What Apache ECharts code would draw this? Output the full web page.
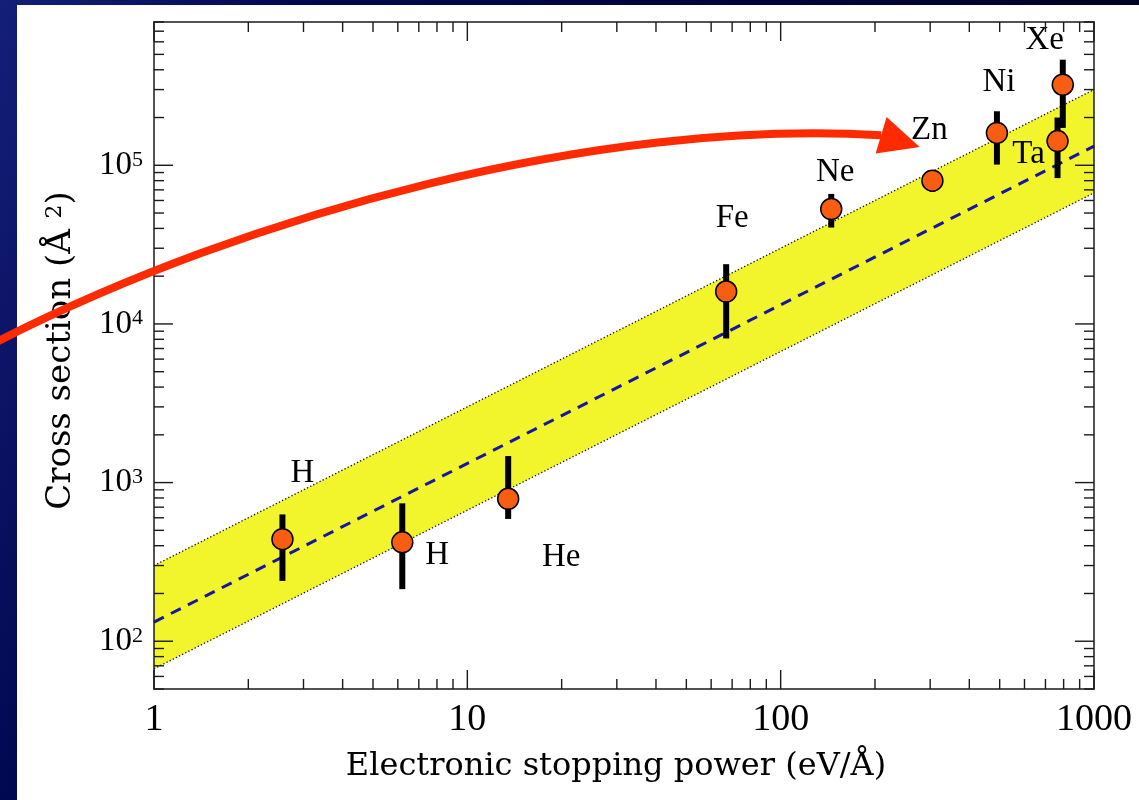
<!DOCTYPE html>
<html>
<head>
<meta charset="utf-8">
<script src="https://cdn.jsdelivr.net/npm/echarts@6/dist/echarts.min.js"></script>
<style>
  html, body { margin: 0; padding: 0; }
  #wrap {
    position: relative; width: 1139px; height: 800px; overflow: hidden;
    background: linear-gradient(110deg, #141f78 0%, #00074f 22%, #000224 80%, #00001a 100%);
  }
  #panel { position: absolute; left: 17px; top: 5px; right: 0; bottom: 0; background: #fff; }
  #chart { position: absolute; left: 0; top: 0; width: 1139px; height: 800px; }
</style>
</head>
<body>
<div id="wrap">
  <div id="panel"></div>
  <div id="chart"></div>
</div>
<script>
// Measured cross sections versus electronic stopping power, one entry per ion
const ions             = ['H', 'H', 'He', 'Fe', 'Ne', 'Zn', 'Ni', 'Ta', 'Xe'];
const stoppingPower    = [2.57, 6.2, 13.5, 67, 145, 305, 490, 765, 795];
const crossSection     = [440, 420, 790, 16000, 53000, 80000, 160000, 142000, 322000];
const crossSectionLow  = [240, 213, 590, 8100, 40500, 68000, 101000, 83000, 172000];
const crossSectionHigh = [630, 740, 1470, 23800, 66000, 90000, 219000, 200000, 463000];

// Linear scaling band (slope one on log-log axes)
const bandX      = [1, 1000];
const bandCenter = [132, 132000];
const bandUpper  = [300, 300000];
const bandLower  = [67, 67000];

// Axis ranges and ticks
const X_MIN = 1, X_MAX = 1000, Y_MIN = 50, Y_MAX = 800000;
const xMajorTicks = [1, 10, 100, 1000];
const xMinorTicks = [2, 3, 4, 5, 6, 7, 8, 9, 20, 30, 40, 50, 60, 70, 80, 90,
                     200, 300, 400, 500, 600, 700, 800, 900];
const yMajorTicks = [100, 1000, 10000, 100000];
const yMinorTicks = [50, 60, 70, 80, 90, 200, 300, 400, 500, 600, 700, 800, 900,
                     2000, 3000, 4000, 5000, 6000, 7000, 8000, 9000,
                     20000, 30000, 40000, 50000, 60000, 70000, 80000, 90000,
                     200000, 300000, 400000, 500000, 600000, 700000, 800000];

// Red annotation arrow: cubic Bézier shaft (start, two control points, end)
// and the arrow tip, in data units
const arrowCurveX = [0.3085, 2.025, 26.52, 209.2];
const arrowCurveY = [7557, 50560, 197800, 154500];
const arrowTip = [277.8, 130400];

// Ion label placement around each marker (pixels)
const labelOffsets = [[20, -66], [35, 13], [53, 58], [6, -73], [4, -37],
                      [-3, -50], [2, -51], [-29, 13], [-18, -44]];

const AXIS_COLOR = '#1a1a1a';
const ARROW_COLOR = '#ff2a00';
const SERIF = '"Liberation Serif", "DejaVu Serif", serif';
const TITLE_FONT = '"DejaVu Serif", "Liberation Serif", serif';

function isDecade(v) {
  const l = Math.log10(v);
  return Math.abs(l - Math.round(l)) < 1e-6;
}

function tickLine(x1, y1, x2, y2) {
  return { type: 'line', shape: { x1, y1, x2, y2 },
           style: { stroke: AXIS_COLOR, lineWidth: 1.4 } };
}

const frameAxis = (extra) => Object.assign({
  type: 'log', logBase: 10, z: 6,
  axisLine: { show: true, onZero: false, lineStyle: { color: AXIS_COLOR, width: 1.5 } },
  axisTick: { show: false },
  splitLine: { show: false },
  minorTick: { show: false },
  minorSplitLine: { show: false }
}, extra);

const chart = echarts.init(document.getElementById('chart'), null, { renderer: 'canvas' });

chart.setOption({
  backgroundColor: 'transparent',
  animation: false,
  grid: { left: 154, top: 22, width: 940, height: 667, containLabel: false, outerBoundsMode: 'none' },
  xAxis: [
    frameAxis({
      position: 'bottom', min: X_MIN, max: X_MAX,
      axisLabel: {
        show: true, margin: 12, color: '#000', fontFamily: SERIF, fontSize: 38,
        formatter: v => isDecade(v) ? String(Math.round(v)) : ''
      },
      name: 'Electronic stopping power (eV/Å)',
      nameLocation: 'middle', nameGap: 62,
      nameTextStyle: { color: '#000', fontFamily: TITLE_FONT, fontSize: 32, padding: [0, 16, 0, 0] }
    }),
    frameAxis({ position: 'top', min: X_MIN, max: X_MAX, axisLabel: { show: false } })
  ],
  yAxis: [
    frameAxis({
      position: 'left', min: Y_MIN, max: Y_MAX,
      axisLabel: {
        show: true, margin: 11, color: '#000', fontFamily: SERIF, fontSize: 33,
        showMinLabel: false, showMaxLabel: false,
        formatter: v => isDecade(v) ? '10{sup|' + Math.round(Math.log10(v)) + '}' : '',
        rich: { sup: { fontSize: 22, fontFamily: SERIF, color: '#000', verticalAlign: 'top' } }
      },
      name: 'Cross section (Å {sup|2})',
      nameLocation: 'middle', nameGap: 76, nameRotate: 90,
      nameTextStyle: {
        color: '#000', fontFamily: TITLE_FONT, fontSize: 34, padding: [0, 0, 0, 10],
        rich: { sup: { fontSize: 22, fontFamily: TITLE_FONT, color: '#000', verticalAlign: 'top' } }
      }
    }),
    frameAxis({ position: 'right', min: Y_MIN, max: Y_MAX, axisLabel: { show: false } })
  ],
  series: [
    // yellow band between the bounding lines
    {
      type: 'custom', z: 1, silent: true,
      data: [[bandX[0], bandUpper[0]]],
      renderItem: (params, api) => {
        const upper = bandX.map((x, i) => api.coord([x, bandUpper[i]]));
        const lower = bandX.map((x, i) => api.coord([x, bandLower[i]])).reverse();
        return { type: 'polygon', shape: { points: upper.concat(lower) },
                 style: { fill: '#f2f52c' } };
      }
    },
    {
      type: 'line', z: 2, silent: true, symbol: 'none',
      data: bandX.map((x, i) => [x, bandUpper[i]]),
      lineStyle: { color: '#111', width: 1.3, type: [1.3, 2.2] }
    },
    {
      type: 'line', z: 2, silent: true, symbol: 'none',
      data: bandX.map((x, i) => [x, bandLower[i]]),
      lineStyle: { color: '#111', width: 1.3, type: [1.3, 2.2] }
    },
    {
      type: 'line', z: 2, silent: true, symbol: 'none',
      data: bandX.map((x, i) => [x, bandCenter[i]]),
      lineStyle: { color: '#1616a2', width: 3, type: [11, 8] }
    },
    // error bars
    {
      type: 'custom', z: 3, silent: true,
      encode: { x: 0, y: [1, 2] },
      data: stoppingPower.map((x, i) => [x, crossSectionLow[i], crossSectionHigh[i]]),
      renderItem: (params, api) => {
        const x = api.value(0);
        const lo = api.coord([x, api.value(1)]);
        const hi = api.coord([x, api.value(2)]);
        return { type: 'line', shape: { x1: lo[0], y1: lo[1], x2: hi[0], y2: hi[1] },
                 style: { stroke: '#000', lineWidth: 6 } };
      }
    },
    // measured points with ion labels
    {
      type: 'scatter', z: 4, symbol: 'circle', symbolSize: 21,
      itemStyle: { color: '#f95d12', borderColor: '#000', borderWidth: 1.5, opacity: 1 },
      label: {
        show: true, position: 'inside', formatter: '{b}',
        color: '#000', fontFamily: SERIF, fontSize: 33
      },
      data: stoppingPower.map((x, i) => ({
        name: ions[i], value: [x, crossSection[i]], label: { offset: labelOffsets[i] }
      }))
    },
    // ticks on bottom and top
    {
      type: 'custom', z: 5, silent: true,
      encode: { x: 0, y: 1 },
      data: xMajorTicks.map(v => [v, Y_MIN, 1]).concat(xMinorTicks.map(v => [v, Y_MIN, 0])),
      renderItem: (params, api) => {
        const v = api.value(0);
        const len = api.value(2) === 1 ? 19 : 10;
        const b = api.coord([v, Y_MIN]);
        const t = api.coord([v, Y_MAX]);
        return { type: 'group', children: [
          tickLine(b[0], b[1], b[0], b[1] - len),
          tickLine(t[0], t[1], t[0], t[1] + len)
        ] };
      }
    },
    // ticks on left and right
    {
      type: 'custom', z: 5, silent: true,
      encode: { x: 0, y: 1 },
      data: yMajorTicks.map(v => [X_MIN, v, 1]).concat(yMinorTicks.map(v => [X_MIN, v, 0])),
      renderItem: (params, api) => {
        const v = api.value(1);
        const len = api.value(2) === 1 ? 19 : 10;
        const l = api.coord([X_MIN, v]);
        const r = api.coord([X_MAX, v]);
        return { type: 'group', children: [
          tickLine(l[0], l[1], l[0] + len, l[1]),
          tickLine(r[0], r[1], r[0] - len, r[1])
        ] };
      }
    },
    // red arrow; the shaft starts left of the axis range, so the log mapping
    // is anchored on two in-range decades and extended from there
    {
      type: 'custom', z: 20, silent: true, clip: false,
      encode: { x: 0, y: 1 },
      data: [[10, 10000]],
      renderItem: (params, api) => {
        const o = api.coord([1, 1000]);
        const d = api.coord([10, 10000]);
        const toPx = (x, y) => [
          o[0] + Math.log10(x) * (d[0] - o[0]),
          o[1] + (Math.log10(y) - 3) * (d[1] - o[1])
        ];
        const c = arrowCurveX.map((x, i) => toPx(x, arrowCurveY[i]));
        const base = c[3];
        const tip = toPx(arrowTip[0], arrowTip[1]);
        const ux = tip[0] - base[0], uy = tip[1] - base[1];
        const len = Math.hypot(ux, uy);
        const half = 19;
        const nx = -uy / len * half, ny = ux / len * half;
        return { type: 'group', children: [
          { type: 'bezierCurve',
            shape: { x1: c[0][0], y1: c[0][1], cpx1: c[1][0], cpy1: c[1][1],
                     cpx2: c[2][0], cpy2: c[2][1], x2: c[3][0], y2: c[3][1] },
            style: { stroke: ARROW_COLOR, lineWidth: 8, fill: null, lineCap: 'butt' } },
          { type: 'polygon',
            shape: { points: [[base[0] + nx, base[1] + ny], tip, [base[0] - nx, base[1] - ny]] },
            style: { fill: ARROW_COLOR } }
        ] };
      }
    }
  ]
});
</script>
</body>
</html>
